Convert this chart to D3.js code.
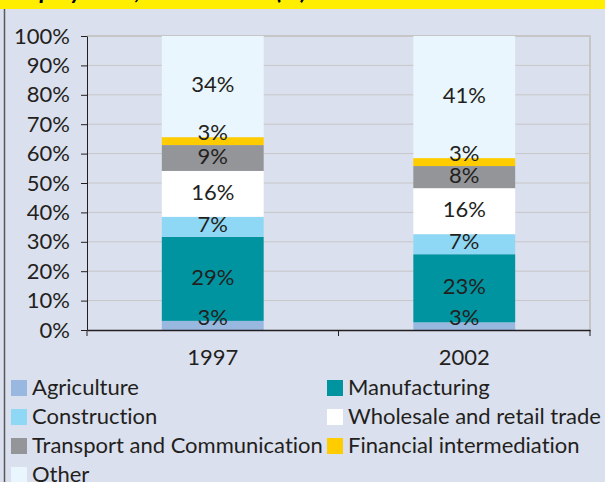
<!DOCTYPE html>
<html>
<head>
<meta charset="utf-8">
<script src="https://cdn.jsdelivr.net/npm/d3@7"></script>
<style>
  body { margin: 0; background: #dbe0ee; }
  svg { display: block; }
  text { font-family: Lato, "Open Sans", sans-serif; fill: #231f20; font-variant-ligatures: none; }
</style>
</head>
<body>
<div id="chart"></div>
<script>
// sectors in stacking order (bottom to top)
var sectors = ['Agriculture', 'Manufacturing', 'Construction', 'Wholesale and retail trade',
               'Transport and Communication', 'Financial intermediation', 'Other'];
var colors  = ['#99b8e0', '#0094a0', '#8fd8f5', '#ffffff', '#939598', '#ffcc00', '#eaf6fd'];
var years   = ['1997', '2002'];

// share of employment, %
var share1997 = [3.1, 28.6, 6.8, 15.6, 8.8, 2.7, 34.4];
var share2002 = [2.6, 23.1, 6.8, 15.6, 7.5, 2.7, 41.4];

var yTicks = [0, 0.1, 0.2, 0.3, 0.4, 0.5, 0.6, 0.7, 0.8, 0.9, 1];

var width = 605, height = 482;
var plot = {left: 87, right: 590, top: 36, bottom: 330};

var svg = d3.select('#chart').append('svg')
  .attr('width', width)
  .attr('height', height);

// background
svg.append('rect').attr('width', width).attr('height', height).attr('fill', '#dbe0ee');

// clipped title strip
svg.append('rect').attr('width', width).attr('height', 9).attr('fill', '#ffee00');
svg.append('text')
  .attr('x', 8).attr('y', -1)
  .style('font-size', '24px').style('font-weight', 'bold').style('font-style', 'italic')
  .style('fill', '#000')
  .text('Employment, 1997\u20132002 (%)');

// left frame line
svg.append('line')
  .attr('x1', 4.5).attr('x2', 4.5).attr('y1', 9).attr('y2', height)
  .attr('stroke', '#58595b').attr('stroke-width', 1.5);

var rows = years.map(function(yr, i) {
  var vals = i == 0 ? share1997 : share2002;
  var r = {year: yr};
  sectors.forEach(function(s, j) { r[s] = vals[j]; });
  return r;
});

var stack = d3.stack().keys(sectors).offset(d3.stackOffsetExpand);
var series = stack(rows);

var x = d3.scaleBand()
  .domain(years)
  .range([plot.left, plot.right])
  .paddingInner(0.595)
  .paddingOuter(0.2975);

var y = d3.scaleLinear()
  .domain([0, 1])
  .range([plot.bottom, plot.top]);

// gridlines
svg.append('g').selectAll('line.grid').data(yTicks.slice(1)).enter()
  .append('line')
  .attr('class', 'grid')
  .attr('x1', plot.left).attr('x2', plot.right)
  .attr('y1', function(d) { return y(d); })
  .attr('y2', function(d) { return y(d); })
  .attr('stroke', '#c6c6c6').attr('stroke-width', 1);

// plot border (top, right)
svg.append('path')
  .attr('d', 'M' + plot.left + ',' + plot.top + 'H' + plot.right + 'V' + plot.bottom)
  .attr('fill', 'none').attr('stroke', '#c6c6c6').attr('stroke-width', 2);

// bars
var layer = svg.append('g').selectAll('g.layer').data(series).enter()
  .append('g')
  .attr('class', 'layer')
  .attr('fill', function(d, i) { return colors[i]; });

layer.selectAll('rect').data(function(d) { return d; }).enter()
  .append('rect')
  .attr('x', function(d) { return x(d.data.year); })
  .attr('width', x.bandwidth())
  .attr('y', function(d) { return y(d[1]); })
  .attr('height', function(d) { return y(d[0]) - y(d[1]); });

// value labels
series.forEach(function(s) {
  svg.append('g').selectAll('text').data(s).enter()
    .append('text')
    .attr('x', function(d) { return x(d.data.year) + x.bandwidth() / 2; })
    .attr('y', function(d) {
      var mid = (y(d[0]) + y(d[1])) / 2;
      return Math.min(mid - 2, y(d[0]) - 13);
    })
    .attr('dy', '0.36em')
    .attr('text-anchor', 'middle')
    .style('font-size', '22px')
    .text(function(d) { return Math.round(d.data[s.key]) + '%'; });
});

// y axis
var yAxis = svg.append('g')
  .attr('transform', 'translate(' + plot.left + ',0)')
  .call(d3.axisLeft(y).tickValues(yTicks).tickFormat(d3.format('.0%')).tickSize(6).tickSizeOuter(0).tickPadding(11));
yAxis.select('.domain').attr('stroke', '#231f20');
yAxis.selectAll('.tick line').attr('stroke', '#231f20');
yAxis.selectAll('text').style('font-size', '22px').style('font-family', 'Lato, sans-serif').attr('fill', '#231f20');

// x axis
var xAxis = svg.append('g')
  .attr('transform', 'translate(0,' + plot.bottom + ')')
  .call(d3.axisBottom(x).tickSize(0).tickPadding(19));
xAxis.select('.domain').attr('stroke', '#231f20').attr('stroke-width', 1.5);
xAxis.selectAll('text').style('font-size', '22px').style('font-family', 'Lato, sans-serif').attr('fill', '#231f20');
// category boundary ticks
var bounds = [plot.left].concat(years.map(function(d) { return x(d) + x.bandwidth() + x.step() * x.paddingInner() / 2; }));
xAxis.selectAll('line.bound').data(bounds).enter()
  .append('line')
  .attr('class', 'bound')
  .attr('x1', function(d) { return d; }).attr('x2', function(d) { return d; })
  .attr('y1', 0).attr('y2', 6)
  .attr('stroke', '#231f20');

// legend
var legend = svg.append('g').selectAll('g.legend').data(sectors).enter()
  .append('g')
  .attr('class', 'legend')
  .attr('transform', function(d, i) {
    var col = i % 2, row = Math.floor(i / 2);
    return 'translate(' + (11 + col * 316) + ',' + (380 + row * 29) + ')';
  });

legend.append('rect')
  .attr('width', 16).attr('height', 16)
  .attr('fill', function(d, i) { return colors[i]; });

legend.append('text')
  .attr('x', 21).attr('y', 15)
  .style('font-size', '22px')
  .text(function(d) { return d; });
</script>
</body>
</html>
